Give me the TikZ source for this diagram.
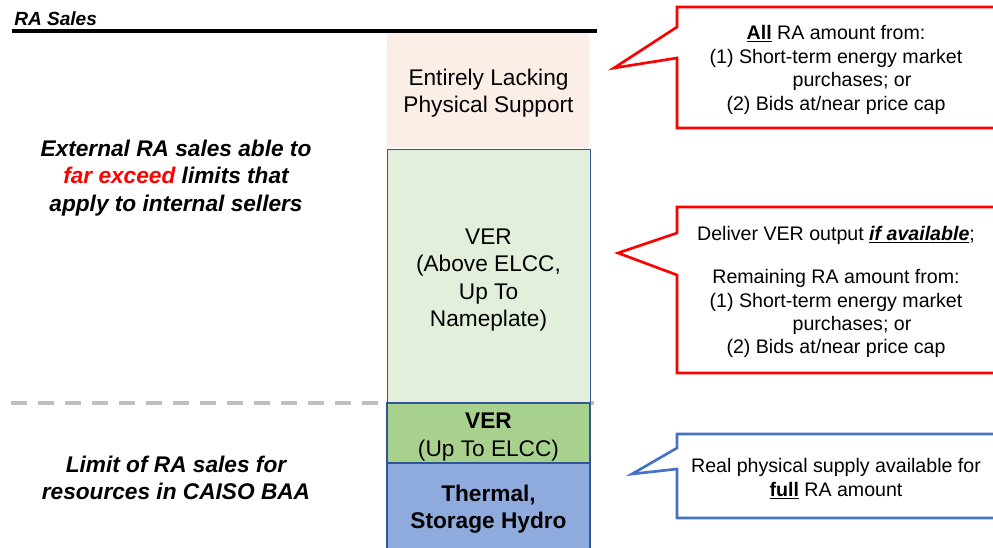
\documentclass[tikz,border=0pt]{standalone}
\usepackage{fontspec}
\setmainfont{Liberation Sans}
\usetikzlibrary{fit}
\definecolor{peach}{HTML}{FBEEE6}
\definecolor{lgreen}{HTML}{E2EFDA}
\definecolor{mgreen}{HTML}{A9D18E}
\definecolor{mblue}{HTML}{8FAADC}
\definecolor{bordblue}{HTML}{2F5597}
\definecolor{callblue}{HTML}{4472C4}
\definecolor{dashgray}{HTML}{BFBFBF}
\tikzset{
  colbox/.style={inner sep=0pt, outer sep=0pt},
  coltext/.style={align=center, font=\fontsize{17}{20.4}\selectfont},
  calltext/.style={align=center, font=\fontsize{14.7}{17.6}\selectfont},
  sidetext/.style={align=center, font=\bfseries\itshape\fontsize{17}{20.6}\selectfont},
  redcall/.style={draw=red, line width=2pt, fill=white, line join=miter},
  bluecall/.style={draw=callblue, line width=2pt, fill=white, line join=miter}
}
\begin{document}
\begin{tikzpicture}[x=0.75pt,y=-0.75pt]
\useasboundingbox (0,0) rectangle (993,548);
\clip (0,0) rectangle (993,548);
% heading
\node[anchor=west, inner sep=0pt, font=\bfseries\itshape\fontsize{14.3}{17}\selectfont] (title) at (14,19) {RA Sales};
\coordinate (tl) at (12,31);
\coordinate (tr) at (597,31);
\draw[line width=2.6pt] (tl) -- (tr);
% dashed gray line
\coordinate (dl) at (11,403);
\coordinate (dr) at (600,403);
\draw[dashgray, line width=3pt, dash pattern=on 12pt off 8.25pt] (dl) -- (dr);
% column
\node[colbox, fill=peach, fit={(387,33)(589,148)}] (lack) {};
\node[coltext] (lacktxt) at (488.5,93) {Entirely Lacking\\Physical Support};
\node[colbox, fill=lgreen, draw=bordblue, line width=0.5pt, fit={(387,149)(590,403)}] (verup) {};
\node[coltext] (veruptxt) at (488.5,280) {VER\\(Above ELCC,\\Up To\\Nameplate)};
\node[colbox, fill=mgreen, draw=bordblue, line width=0.8pt, fit={(387,403)(590,463)}] (verelcc) {};
\node[coltext] (verelcctxt) at (488.5,437) {\textbf{VER}\\(Up To ELCC)};
\node[colbox, fill=mblue, draw=bordblue, line width=0.8pt, fit={(387,463)(590,552)}] (thermal) {};
\node[coltext, font=\bfseries\fontsize{17}{20.4}\selectfont] (thermaltxt) at (488.5,509) {Thermal,\\Storage Hydro};
% side texts
\node[sidetext] (ext) at (176,178) {External RA sales able to\\{\color{red}far exceed} limits that\\apply to internal sellers};
\node[sidetext] (lim) at (176,478) {Limit of RA sales for\\resources in CAISO BAA};
% callouts
\path[redcall] (677,7) -- (1000,7) -- (1000,128) -- (677,128) -- (677,58) -- (614,68) -- (677,27) -- cycle;
\node[calltext] (c1) at (836,70) {\underline{\textbf{All}} RA amount from:\\(1) Short-term energy market\\\hspace*{24pt}purchases; or\\(2) Bids at/near price cap};
\path[redcall] (677,207) -- (1000,207) -- (1000,373) -- (677,373) -- (677,275) -- (618,253) -- (677,233) -- cycle;
\node[calltext] (c2) at (836,292) {Deliver VER output \underline{\textbf{\textit{if available}}};\\[15pt]Remaining RA amount from:\\(1) Short-term energy market\\\hspace*{24pt}purchases; or\\(2) Bids at/near price cap};
\path[bluecall] (677,434) -- (1000,434) -- (1000,518) -- (677,518) -- (677,469) -- (632,474) -- (677,448) -- cycle;
\node[calltext] (c3) at (836,479) {Real physical supply available for\\\underline{\textbf{full}} RA amount};
\end{tikzpicture}
\end{document}
